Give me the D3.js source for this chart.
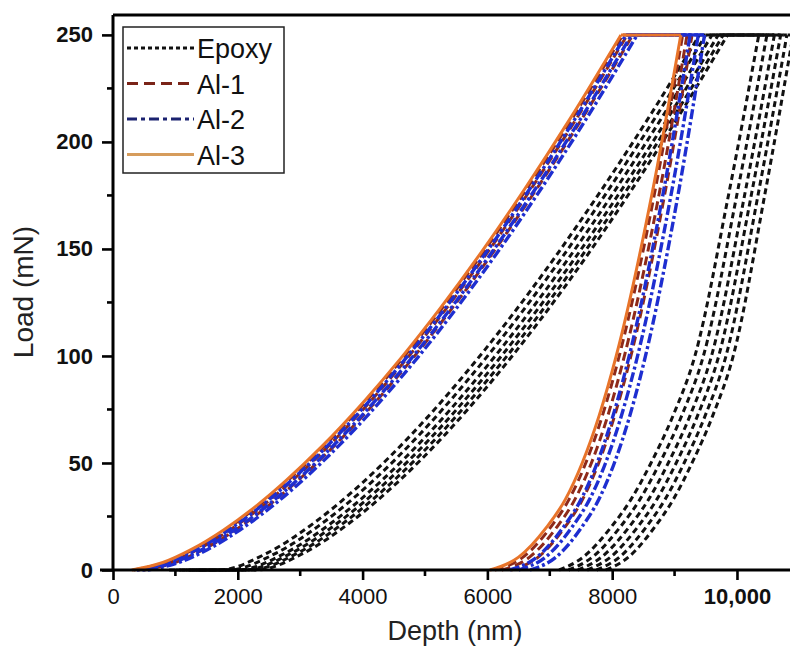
<!DOCTYPE html>
<html>
<head>
<meta charset="utf-8">
<script src="https://cdn.jsdelivr.net/npm/d3@7"></script>
<style>
  body { margin: 0; background: #fff; }
  svg { font-family: "Liberation Sans", Arial, sans-serif; }
</style>
</head>
<body>
<div id="chart"></div>
<script>
// Load levels (mN) shared by the loading / unloading branches
var alLoadLevels = [0, 3.5, 9.5, 18.7, 31, 42, 58, 79, 99, 122, 149, 178, 211, 250];
var epoxyLoadLevels = [0, 0, 7.9, 22.4, 41.1, 63.2, 88.4, 116.2, 146.4, 178.9, 213.4, 250];
var unloadLevels = [0, 6, 20, 33, 50, 72, 100, 176, 250];

// Depths (nm), one array per indentation test
var epoxyLoading = [
  [900, 1700, 2470, 3240, 4010, 4780, 5550, 6320, 7090, 7860, 8630, 9400],
  [1000, 1850, 2615, 3380, 4145, 4910, 5675, 6440, 7205, 7970, 8735, 9500],
  [1100, 2000, 2760, 3520, 4280, 5040, 5800, 6560, 7320, 8080, 8840, 9600],
  [1200, 2100, 2860, 3620, 4380, 5140, 5900, 6660, 7420, 8180, 8940, 9700],
  [1300, 2200, 2958, 3716, 4474, 5232, 5990, 6748, 7506, 8264, 9022, 9780],
  [1400, 2300, 3055, 3810, 4565, 5320, 6075, 6830, 7585, 8340, 9095, 9850]
];
var epoxyUnloading = [
  [7150, 7534, 7982, 8302, 8622, 8974, 9326, 9870, 10350],
  [7300, 7682, 8127, 8445, 8763, 9113, 9462, 10003, 10480],
  [7450, 7828, 8269, 8584, 8899, 9246, 9592, 10128, 10600],
  [7600, 7972, 8406, 8716, 9026, 9367, 9708, 10235, 10700],
  [7750, 8116, 8543, 8848, 9153, 9489, 9824, 10343, 10800],
  [7900, 8260, 8680, 8980, 9280, 9610, 9940, 10450, 10900]
];
var al1Loading = [
  [330, 829, 1281, 1803, 2371, 2811, 3386, 4060, 4645, 5267, 5946, 6628, 7359, 8171],
  [400, 899, 1351, 1873, 2441, 2881, 3456, 4130, 4715, 5337, 6016, 6698, 7429, 8241],
  [490, 989, 1441, 1963, 2531, 2971, 3546, 4220, 4805, 5427, 6106, 6788, 7519, 8331]
];
var al1Unloading = [
  [6120, 6572, 7014, 7309, 7577, 7842, 8113, 8679, 9130],
  [6230, 6676, 7112, 7403, 7667, 7929, 8196, 8755, 9200],
  [6380, 6815, 7241, 7526, 7784, 8039, 8300, 8845, 9280]
];
var al2Loading = [
  [380, 879, 1331, 1853, 2421, 2861, 3436, 4110, 4695, 5317, 5996, 6678, 7409, 8221],
  [470, 969, 1421, 1943, 2511, 2951, 3526, 4200, 4785, 5407, 6086, 6768, 7499, 8311],
  [560, 1059, 1511, 2033, 2601, 3041, 3616, 4290, 4875, 5497, 6176, 6858, 7589, 8401]
];
var al2Unloading = [
  [6360, 6794, 7218, 7502, 7759, 8013, 8273, 8817, 9250],
  [6500, 6932, 7355, 7638, 7894, 8147, 8407, 8948, 9380],
  [6680, 7100, 7512, 7786, 8035, 8282, 8534, 9060, 9480]
];
var al3Loading = [
  [300, 799, 1251, 1773, 2341, 2781, 3356, 4030, 4615, 5237, 5916, 6598, 7329, 8141]
];
var al3Unloading = [
  [6040, 6500, 6950, 7250, 7520, 7790, 8065, 8640, 9100]
];

var xTicks = [0, 2000, 4000, 6000, 8000, 10000];
var xMinorTicks = [1000, 3000, 5000, 7000, 9000];
var yTicks = [0, 50, 100, 150, 200, 250];
var yMinorTicks = [25, 75, 125, 175, 225];

var series = [
  { name: "Epoxy", loading: epoxyLoading, levels: epoxyLoadLevels, unloading: epoxyUnloading,
    color: "#111", legendColor: "#111", width: 3, dash: "6,4", legendDash: "4,3" },
  { name: "Al-1", loading: al1Loading, levels: alLoadLevels, unloading: al1Unloading,
    color: "#8e2a1a", legendColor: "#7a2418", width: 3, dash: "9,5", legendDash: "11,6" },
  { name: "Al-2", loading: al2Loading, levels: alLoadLevels, unloading: al2Unloading,
    color: "#1e2ed0", legendColor: "#1b2270", width: 3.4, dash: "10,3,3,3", legendDash: "10,4,4,4" },
  { name: "Al-3", loading: al3Loading, levels: alLoadLevels, unloading: al3Unloading,
    color: "#e8742a", legendColor: "#d69c5c", width: 3, dash: null, legendDash: null }
];

var svgWidth = 790, svgHeight = 650;
var svg = d3.select("#chart").append("svg")
  .attr("width", svgWidth)
  .attr("height", svgHeight);

svg.append("rect").attr("width", svgWidth).attr("height", svgHeight).attr("fill", "#fff");

var x = d3.scaleLinear().domain([0, 10930]).range([113, 795]);
var y = d3.scaleLinear().domain([0, 259.3]).range([570, 15]);

var line = d3.line()
  .x(function(d) { return x(d[0]); })
  .y(function(d) { return y(d[1]); })
  .curve(d3.curveMonotoneX);

// curves: loading branch, hold at peak load, unloading branch
var plot = svg.append("g");
series.forEach(function(s) {
  s.loading.forEach(function(depths, i) {
    var loadPts = depths.map(function(h, j) { return [h, s.levels[j]]; });
    var unloadPts = s.unloading[i].map(function(h, j) { return [h, unloadLevels[j]]; });
    var peak = loadPts[loadPts.length - 1];
    var holdEnd = unloadPts[unloadPts.length - 1];
    var d = line(loadPts) + line([peak, holdEnd]) + line(unloadPts);
    plot.append("path")
      .attr("d", d)
      .attr("fill", "none")
      .attr("stroke", s.color)
      .attr("stroke-width", s.width)
      .attr("stroke-dasharray", s.dash);
  });
});

// axes
var xAxis = svg.append("g").attr("transform", "translate(0," + y(0) + ")")
  .call(d3.axisBottom(x).tickValues(xTicks).tickSize(10).tickPadding(8)
    .tickFormat(function(d) { return d === 10000 ? "10,000" : String(d); }));
xAxis.append("g").selectAll("line").data(xMinorTicks).enter().append("line")
  .attr("x1", x).attr("x2", x).attr("y1", 0).attr("y2", 6);

var yAxis = svg.append("g").attr("transform", "translate(" + x(0) + ",0)")
  .call(d3.axisLeft(y).tickValues(yTicks).tickSize(11).tickPadding(9));
yAxis.append("g").selectAll("line").data(yMinorTicks).enter().append("line")
  .attr("y1", y).attr("y2", y).attr("x1", 0).attr("x2", -6);

[xAxis, yAxis].forEach(function(a) {
  a.select(".domain").attr("stroke", "#000").attr("stroke-width", 3);
  a.selectAll("line").attr("stroke", "#000").attr("stroke-width", 2.6);
  a.selectAll("text").attr("fill", "#111").attr("font-size", 22)
    .attr("font-family", "'Liberation Sans', Arial, sans-serif");
});
yAxis.select(".domain").attr("d", "M0," + y(259.3) + "V" + y(0));
xAxis.select(".domain").attr("d", "M" + (x(0) - 13) + ",0H" + 795);
yAxis.selectAll("text").attr("font-weight", "bold");
xAxis.selectAll(".tick text").attr("font-weight", function(d) { return d === 10000 ? "bold" : "normal"; });

// top frame
svg.append("line")
  .attr("x1", x(0)).attr("x2", 795)
  .attr("y1", y(259.3)).attr("y2", y(259.3))
  .attr("stroke", "#000").attr("stroke-width", 3);

// axis titles
svg.append("text")
  .attr("x", 455).attr("y", 640)
  .attr("text-anchor", "middle")
  .attr("font-size", 27)
  .attr("fill", "#222")
  .text("Depth (nm)");

svg.append("text")
  .attr("transform", "translate(33,292) rotate(-90)")
  .attr("text-anchor", "middle")
  .attr("font-size", 28)
  .attr("fill", "#222")
  .text("Load (mN)");

// legend
var legend = svg.append("g");
legend.append("rect")
  .attr("x", 123).attr("y", 27).attr("width", 161).attr("height", 146)
  .attr("fill", "#fff").attr("stroke", "#222").attr("stroke-width", 1.5);

series.forEach(function(s, i) {
  var cy = 48 + i * 35.5;
  legend.append("line")
    .attr("x1", 127).attr("x2", 194).attr("y1", cy).attr("y2", cy)
    .attr("stroke", s.legendColor).attr("stroke-width", 3)
    .attr("stroke-dasharray", s.legendDash);
  legend.append("text")
    .attr("x", 197).attr("y", cy + 10)
    .attr("font-size", 27)
    .attr("fill", "#111")
    .text(s.name);
});
</script>
</body>
</html>
